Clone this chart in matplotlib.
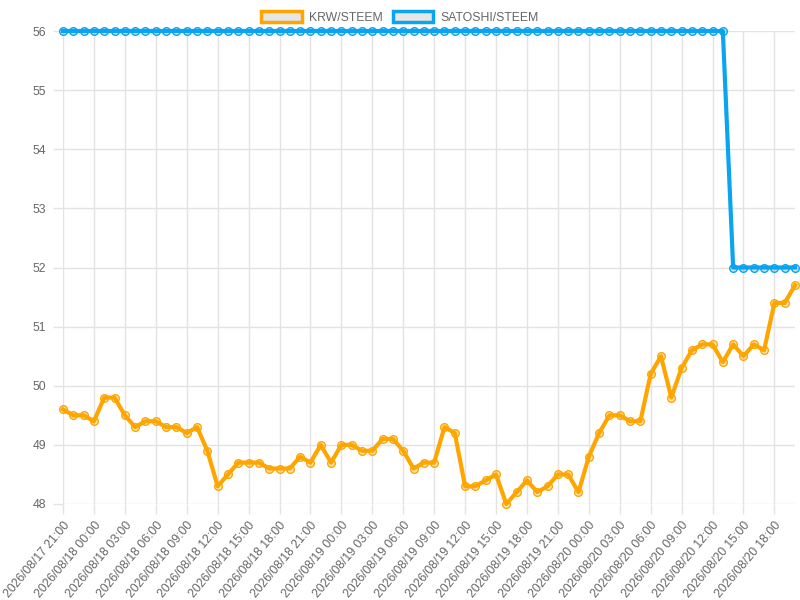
import pandas as pd
import matplotlib
matplotlib.use("Agg")
import matplotlib.pyplot as plt
from matplotlib.patches import Patch

plt.rcParams['font.family'] = ['Liberation Sans', 'DejaVu Sans']

# hourly timestamps (categories)
times = pd.date_range("2026-08-17 21:00", periods=72, freq="h")
labels = [t.strftime("%Y/%m/%d %H:%M") for t in times]

krw = [49.6, 49.5, 49.5, 49.4, 49.8, 49.8, 49.5, 49.3, 49.4, 49.4,
       49.3, 49.3, 49.2, 49.3, 48.9, 48.3, 48.5, 48.7, 48.7, 48.7,
       48.6, 48.6, 48.6, 48.8, 48.7, 49.0, 48.7, 49.0, 49.0, 48.9,
       48.9, 49.1, 49.1, 48.9, 48.6, 48.7, 48.7, 49.3, 49.2, 48.3,
       48.3, 48.4, 48.5, 48.0, 48.2, 48.4, 48.2, 48.3, 48.5, 48.5,
       48.2, 48.8, 49.2, 49.5, 49.5, 49.4, 49.4, 50.2, 50.5, 49.8,
       50.3, 50.6, 50.7, 50.7, 50.4, 50.7, 50.5, 50.7, 50.6, 51.4,
       51.4, 51.7]
satoshi = [56] * 65 + [52] * 7

ORANGE = "#ffa500"
BLUE = "#0aa4f0"
GRID = "#e3e3e3"
TEXT = "#666666"

fig = plt.figure(figsize=(8, 6), dpi=100)
ax = fig.add_axes([63 / 800, 1 - 504 / 600, 732 / 800, 473 / 600])

x = list(range(len(labels)))
ax.plot(x, krw, color=ORANGE, lw=3, marker="o", ms=5.5,
        mfc=(1, 0.65, 0, 0.25), mec=ORANGE, mew=1, clip_on=False, zorder=3)
ax.plot(x, satoshi, color=BLUE, lw=3, marker="o", ms=5.5,
        mfc=(0.04, 0.64, 0.94, 0.25), mec=BLUE, mew=1, clip_on=False, zorder=4)

ax.set_xlim(0, len(labels) - 1)
ax.set_ylim(48, 56)
ax.set_yticks(range(48, 57))

tick_idx = x[::3]
ax.set_xticks(tick_idx)
ax.set_xticklabels([labels[i] for i in tick_idx], rotation=50, ha="right",
                   va="top", rotation_mode="anchor")

for s in ax.spines.values():
    s.set_visible(False)
ax.grid(True, color=GRID, lw=1)
ax.set_axisbelow(True)
ax.tick_params(axis="both", colors=GRID, labelcolor=TEXT, labelsize=8.8,
               length=7, width=1)
ax.tick_params(axis="y", pad=5)
ax.tick_params(axis="x", pad=4)

handles = [Patch(facecolor="#e6e6e6", edgecolor=ORANGE, lw=2.5, label="KRW/STEEM"),
           Patch(facecolor="#e6e6e6", edgecolor=BLUE, lw=2.5, label="SATOSHI/STEEM")]
fig.legend(handles=handles, loc="upper center", bbox_to_anchor=(0.5, 1.0),
           ncol=2, frameon=False, fontsize=8.8, handlelength=3.3,
           handleheight=1.0, handletextpad=0.6, columnspacing=0.8,
           labelcolor=TEXT, borderaxespad=0.5)

fig.savefig("out.png", dpi=100)
